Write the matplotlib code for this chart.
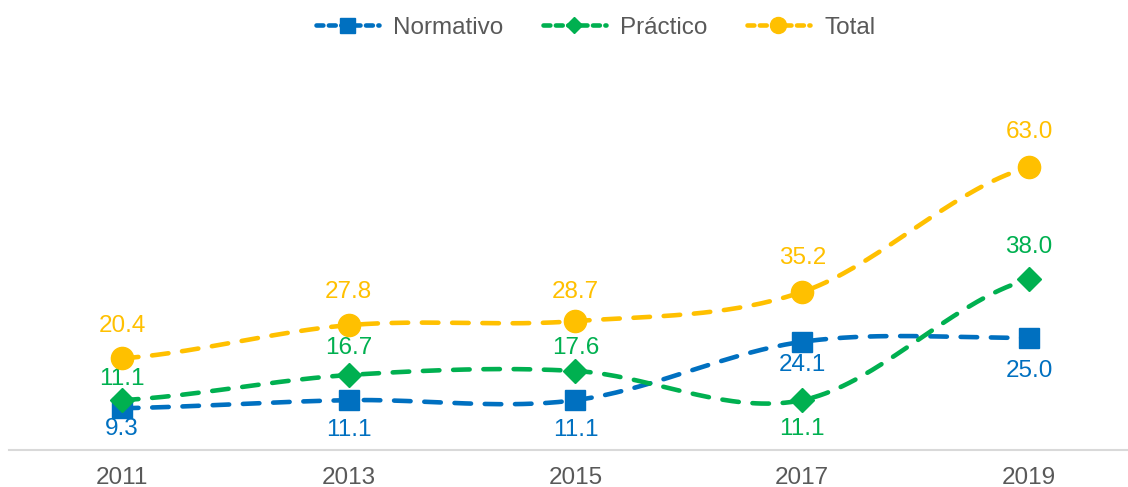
import numpy as np
import matplotlib.pyplot as plt

plt.rcParams['font.family'] = ['Liberation Sans', 'DejaVu Sans']

years = ["2011", "2013", "2015", "2017", "2019"]
normativo = [9.3, 11.1, 11.1, 24.1, 25.0]
practico = [11.1, 16.7, 17.6, 11.1, 38.0]
total = [20.4, 27.8, 28.7, 35.2, 63.0]

# label offsets in pixels from the point (positive = above)
normativo_off = [-21, -30, -30, -23, -33]
practico_off = [21, 27, 23, -29, 32]
total_off = [32, 33, 29, 34, 35]

BLUE = "#0070C0"
GREEN = "#00B050"
GOLD = "#FFC000"
FS = 17.5


def smooth(x, y, n=40):
    # Catmull-Rom style curve through the points (like Excel smoothed lines)
    x = np.asarray(x, float)
    y = np.asarray(y, float)
    px = np.concatenate([[2 * x[0] - x[1]], x, [2 * x[-1] - x[-2]]])
    py = np.concatenate([[y[0]], y, [y[-1]]])
    xs, ys = [], []
    for i in range(1, len(px) - 2):
        p0, p1, p2, p3 = px[i - 1], px[i], px[i + 1], px[i + 2]
        q0, q1, q2, q3 = py[i - 1], py[i], py[i + 1], py[i + 2]
        c1x, c1y = p1 + (p2 - p0) / 6, q1 + (q2 - q0) / 6
        c2x, c2y = p2 - (p3 - p1) / 6, q2 - (q3 - q1) / 6
        t = np.linspace(0, 1, n)
        b0 = (1 - t) ** 3
        b1 = 3 * (1 - t) ** 2 * t
        b2 = 3 * (1 - t) * t ** 2
        b3 = t ** 3
        xs.append(b0 * p1 + b1 * c1x + b2 * c2x + b3 * p2)
        ys.append(b0 * q1 + b1 * c1y + b2 * c2y + b3 * q2)
    return np.concatenate(xs), np.concatenate(ys)


fig = plt.figure(figsize=(11.28, 4.87), dpi=100)
ax = fig.add_axes([8.6 / 1128, 37 / 487, 1133.75 / 1128, 314.3 / 487])

x = np.arange(len(years))
series = [
    ("Normativo", normativo, normativo_off, BLUE, "s", 15),
    ("Práctico", practico, practico_off, GREEN, "D", 12),
    ("Total", total, total_off, GOLD, "o", 16),
]

for name, vals, offs, col, mk, ms in series:
    sx, sy = smooth(x, vals)
    ax.plot(sx, sy, color=col, lw=3.3, linestyle=(0, (3.6, 3.0)),
            dash_capstyle="round", zorder=2)
    ax.plot(x, vals, linestyle="none", marker=mk, markersize=ms,
            color=col, zorder=3)
    for xi, v, o in zip(x, vals, offs):
        ax.annotate(f"{v:.1f}", (xi, v), xytext=(0, o * 0.72),
                    textcoords="offset points", ha="center", va="center",
                    fontsize=FS, color=col)

# legend handles
handles = []
for name, vals, offs, col, mk, ms in series:
    h, = ax.plot([], [], color=col, lw=3.3, linestyle=(0, (1.5, 1.2)),
                 dash_capstyle="round", marker=mk, markersize=ms * 0.72,
                 label=name)
    handles.append(h)
leg = fig.legend(handles=handles, loc="center", bbox_to_anchor=(0.528, 0.943),
                 ncol=3, frameon=False, fontsize=FS, handlelength=2.6,
                 columnspacing=1.6, handletextpad=0.6)
for t in leg.get_texts():
    t.set_color("#595959")

ax.set_xlim(-0.5, 4.5)
ax.set_ylim(0, 70)
ax.set_xticks(x)
ax.set_xticklabels(years, fontsize=FS, color="#595959")
ax.set_yticks([])
ax.tick_params(axis="x", length=0, pad=12)
for s in ["top", "right", "left"]:
    ax.spines[s].set_visible(False)
ax.spines["bottom"].set_color("#D9D9D9")
ax.spines["bottom"].set_linewidth(1.5)
ax.patch.set_alpha(0)

fig.savefig("out.png", dpi=100)
